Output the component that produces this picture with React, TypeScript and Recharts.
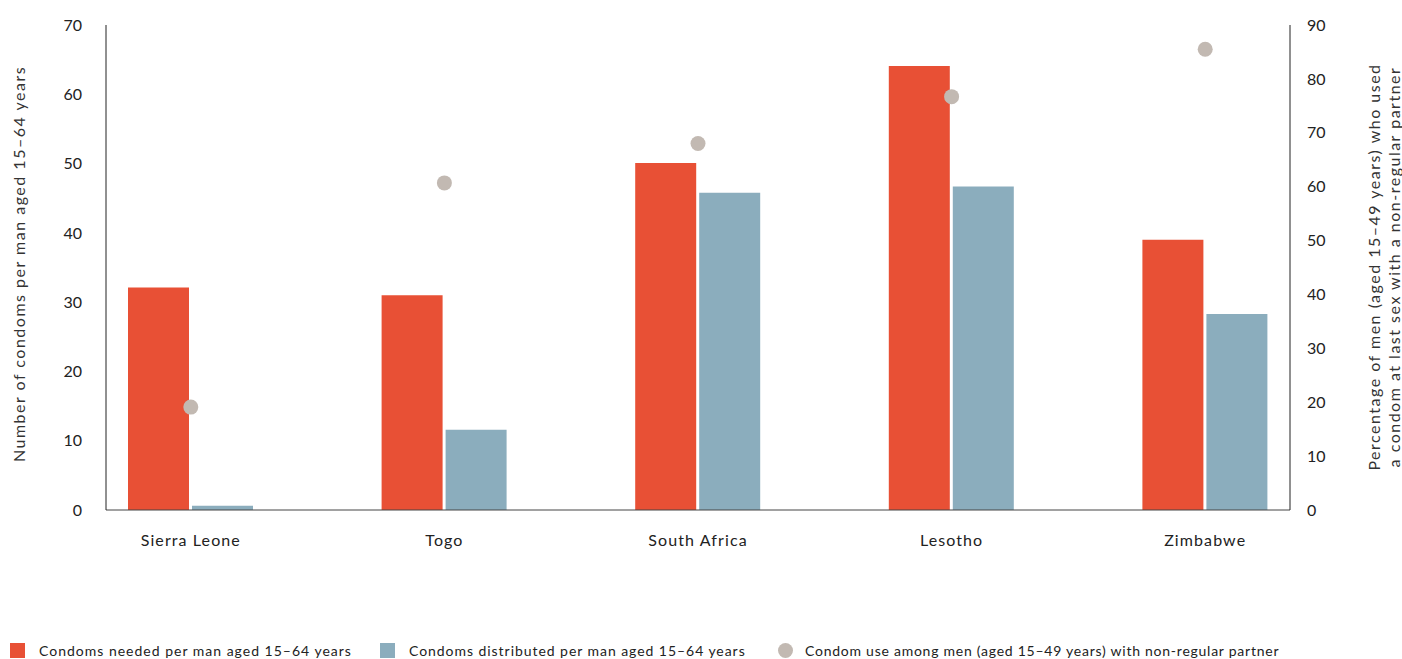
import React from 'react';
import { ComposedChart, Bar, Scatter, XAxis, YAxis } from 'recharts';

const countries = ['Sierra Leone', 'Togo', 'South Africa', 'Lesotho', 'Zimbabwe'];
const needed = [32.1, 31, 50.1, 64.1, 39];
const distributed = [0.6, 11.6, 45.8, 46.7, 28.3];
const condomUse = [19.1, 60.7, 68, 76.7, 85.5];
const leftTicks = [0, 10, 20, 30, 40, 50, 60, 70];
const rightTicks = [0, 10, 20, 30, 40, 50, 60, 70, 80, 90];

const RED = '#E85035';
const BLUE = '#8BADBD';
const GREY = '#C2B9B2';
const FONT = 'Lato, "Noto Sans", sans-serif';

const data = countries.map((c, i) => ({
  country: c,
  needed: needed[i],
  distributed: distributed[i],
  use: condomUse[i],
}));

const LeftLabel = () => (
  <text
    x={18}
    y={264}
    transform="rotate(-90 18 264)"
    textAnchor="middle"
    dominantBaseline="central"
    fontSize={16}
    letterSpacing={1.5}
    fill="#333"
    fontFamily={FONT}
  >
    Number of condoms per man aged 15–64 years
  </text>
);

const RightLabel = () => (
  <g>
    <text
      x={1373}
      y={267}
      transform="rotate(-90 1373 267)"
      textAnchor="middle"
      dominantBaseline="central"
      fontSize={16}
      letterSpacing={1.5}
      fill="#333"
      fontFamily={FONT}
    >
      Percentage of men  (aged 15–49 years) who used
    </text>
    <text
      x={1393}
      y={267}
      transform="rotate(-90 1393 267)"
      textAnchor="middle"
      dominantBaseline="central"
      fontSize={16}
      letterSpacing={1.5}
      fill="#333"
      fontFamily={FONT}
    >
      a condom at last sex with a non-regular partner
    </text>
  </g>
);

const legendItems = [
  { label: 'Condoms needed per man aged 15–64 years', color: RED, shape: 'square', x: 10, ls: 1 },
  { label: 'Condoms distributed per man aged 15–64 years', color: BLUE, shape: 'square', x: 380, ls: 0.95 },
  { label: 'Condom use among men (aged 15–49 years) with non-regular partner', color: GREY, shape: 'circle', x: 778, ls: 0.75 },
];

const tickStyle = { fontSize: 16, fill: '#222', fontFamily: FONT };

export default function App() {
  return (
    <div style={{ position: 'absolute', left: 0, top: 0, width: 1402, height: 659, background: '#fff', fontFamily: FONT }}>
      <ComposedChart
        width={1402}
        height={659}
        data={data}
        margin={{ top: 25, right: 0, bottom: 109, left: 0 }}
        barGap={3}
      >
        <XAxis
          dataKey="country"
          xAxisId="x"
          height={40}
          padding={{ left: -42, right: -42 }}
          tickLine={false}
          tickMargin={19}
          axisLine={{ stroke: '#444' }}
          tick={{ ...tickStyle, letterSpacing: 1.1 }}
          interval={0}
        />
        <YAxis
          yAxisId="left"
          width={106}
          domain={[0, 70]}
          ticks={leftTicks}
          tickLine={false}
          tickMargin={18}
          axisLine={{ stroke: '#222' }}
          tick={tickStyle}
          label={{ content: () => <LeftLabel /> }}
        />
        <YAxis
          yAxisId="right"
          orientation="right"
          width={112}
          domain={[0, 90]}
          ticks={rightTicks}
          tickLine={false}
          tickMargin={11}
          axisLine={{ stroke: '#222' }}
          tick={tickStyle}
          label={{ content: () => <RightLabel /> }}
        />
        <Bar dataKey="needed" xAxisId="x" yAxisId="left" fill={RED} barSize={61} isAnimationActive={false} />
        <Bar dataKey="distributed" xAxisId="x" yAxisId="left" fill={BLUE} barSize={61} isAnimationActive={false} />
        <Scatter
          dataKey="use"
          xAxisId="x"
          yAxisId="right"
          fill={GREY}
          isAnimationActive={false}
          shape={(p: any) => <circle cx={p.cx} cy={p.cy} r={7.5} fill={GREY} />}
        />
      </ComposedChart>
      {legendItems.map((it) => (
        <div
          key={it.label}
          style={{ position: 'absolute', left: it.x, top: 641, height: 18, display: 'flex', alignItems: 'center', fontSize: 14, letterSpacing: it.ls, color: '#222', whiteSpace: 'nowrap' }}
        >
          <span
            style={{
              display: 'inline-block',
              width: 15,
              height: 15,
              background: it.color,
              borderRadius: it.shape === 'circle' ? '50%' : 0,
              marginRight: it.shape === 'circle' ? 12 : 14,
            }}
          />
          {it.label}
        </div>
      ))}
    </div>
  );
}
